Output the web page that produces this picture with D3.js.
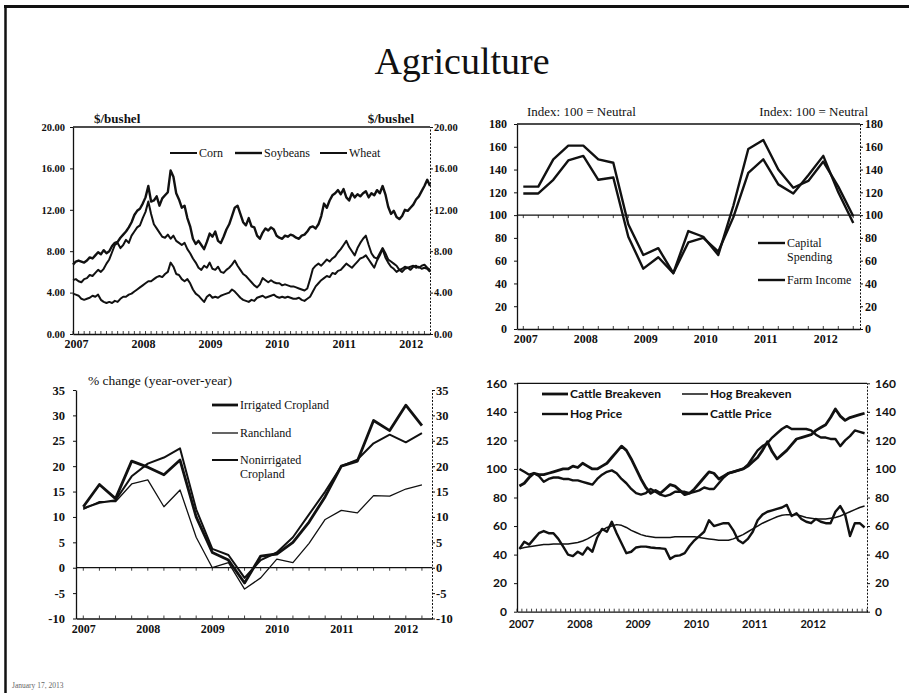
<!DOCTYPE html>
<html>
<head>
<meta charset="utf-8">
<script src="https://cdn.jsdelivr.net/npm/d3@7"></script>
<style>
  html, body { margin: 0; padding: 0; background: #fff; }
  svg { display: block; }
</style>
</head>
<body>
<div id="viz"></div>
<script>
// ---- data ----
const years = [2007, 2008, 2009, 2010, 2011, 2012];

// Top left: grain prices, $/bushel, semi-monthly readings from Jan 2007
const grainDates = d3.range(129).map(i => 2007 + i / 24);
const soybeans = [
  6.7, 7.0, 7.1, 7.0, 6.9, 7.1, 7.4, 7.3, 7.6, 7.9, 7.7, 8.1, 7.8, 8.0, 8.5, 8.8, 8.9, 9.3, 9.6, 9.9, 10.3, 10.8, 11.5, 11.9,
  12.1, 12.6, 13.2, 14.3, 12.8, 12.9, 13.3, 12.4, 13.1, 13.4, 13.7, 15.8, 15.2, 13.6, 13.0, 12.2, 12.4, 11.2, 10.4, 9.2, 8.7, 9.0, 8.6, 8.2,
  8.9, 9.7, 9.4, 9.9, 9.0, 8.8, 9.4, 10.1, 10.6, 11.4, 12.2, 12.4, 11.6, 10.8, 10.5, 11.2, 10.4, 10.3, 9.5, 9.2, 9.8, 10.2, 10.0, 10.3,
  10.1, 9.5, 9.3, 9.2, 9.5, 9.4, 9.6, 9.5, 9.3, 9.2, 9.5, 9.6, 9.9, 10.3, 10.4, 10.2, 10.6, 11.4, 12.6, 12.2, 12.9, 13.4, 13.6, 13.9,
  13.5, 14.0, 13.2, 12.9, 13.6, 13.2, 13.5, 13.3, 13.6, 13.8, 13.2, 13.6, 13.4, 13.9, 13.6, 14.3, 13.5, 12.3, 11.6, 11.9, 11.3, 11.1, 11.4, 12.0,
  11.9, 12.2, 12.5, 13.0, 13.3, 13.8, 14.3, 14.9, 14.3
];
const wheat = [
  5.2, 5.3, 5.1, 5.0, 5.3, 5.4, 5.7, 5.6, 5.9, 6.2, 6.0, 6.3, 6.8, 7.2, 7.9, 8.6, 8.8, 8.3, 8.6, 9.1, 8.8, 9.5, 9.9, 10.3,
  10.5, 11.2, 11.8, 12.8, 11.6, 10.6, 10.2, 9.8, 9.4, 9.3, 9.6, 9.2, 9.5, 9.0, 8.8, 8.6, 8.8, 8.2, 7.8, 7.3, 6.9, 6.4, 6.2, 6.6,
  6.4, 6.9, 6.3, 6.2, 6.5, 6.0, 5.9, 6.2, 6.4, 6.7, 7.1, 6.6, 6.2, 5.8, 5.6, 5.3, 5.0, 4.7, 4.5, 4.8, 5.4, 5.2, 5.0, 5.2,
  5.0, 4.9, 4.9, 4.7, 4.8, 4.7, 4.6, 4.6, 4.5, 4.4, 4.3, 4.2, 4.4, 5.3, 6.3, 6.6, 6.8, 6.6, 6.9, 7.2, 7.0, 7.3, 7.5, 7.9,
  8.2, 8.6, 9.0, 8.4, 8.0, 7.6, 8.3, 8.8, 9.2, 9.5, 8.6, 7.8, 7.4, 7.3, 7.8, 8.3, 7.8, 7.2, 7.0, 6.8, 6.6, 6.2, 6.0, 6.3,
  6.4, 6.2, 6.5, 6.6, 6.4, 6.6, 6.7, 6.4, 6.2
];
const corn = [
  3.9, 3.8, 3.7, 3.4, 3.3, 3.4, 3.5, 3.7, 3.6, 3.8, 3.3, 3.1, 3.0, 3.1, 3.0, 3.2, 3.1, 3.4, 3.6, 3.6, 3.8, 3.9, 4.1, 4.3,
  4.5, 4.7, 4.9, 5.1, 5.1, 5.3, 5.5, 5.6, 5.5, 5.8, 6.0, 6.9, 6.5, 5.8, 5.7, 5.3, 5.1, 5.3, 4.9, 4.3, 3.9, 3.7, 3.4, 3.1,
  3.6, 3.8, 3.5, 3.6, 3.5, 3.7, 3.8, 3.9, 4.0, 4.3, 4.1, 3.8, 3.5, 3.3, 3.2, 3.1, 3.3, 3.2, 3.5, 3.6, 3.7, 3.5, 3.6, 3.7,
  3.8, 3.6, 3.5, 3.6, 3.5, 3.6, 3.5, 3.4, 3.4, 3.5, 3.3, 3.2, 3.4, 3.6, 4.1, 4.6, 4.9, 5.2, 5.4, 5.6, 5.5, 5.9, 5.8, 6.1,
  6.2, 6.5, 6.8, 6.6, 6.4, 6.7, 7.0, 7.3, 7.4, 7.6, 7.2, 6.8, 6.4, 7.1, 7.6, 8.2, 7.4, 6.9, 6.5, 6.3, 6.0, 6.2, 6.3, 6.5,
  6.4, 6.5, 6.6, 6.4, 6.5, 6.3, 6.4, 6.3, 6.0
];

// Top right: quarterly survey index, 100 = neutral
const surveyQuarters = d3.range(23).map(i => 2007 + i / 4);
const capitalSpending = [119, 119, 131, 148, 152, 131, 133, 81, 53, 63, 49, 76, 80, 68, 98, 137, 149, 127, 119, 135, 152, 120, 93];
const farmIncome = [125, 125, 149, 161, 161, 149, 146, 92, 65, 71, 49, 86, 81, 65, 108, 158, 166, 140, 124, 130, 147, 125, 99];

// Bottom left: farmland values, % change year-over-year, quarterly
const landQuarters = d3.range(22).map(i => 2007 + i / 4);
const irrigated = [12, 16.4, 13.6, 21, 19.8, 18.3, 21.2, 10, 3, 1.5, -3, 2.3, 2.7, 5, 9, 14, 20, 21, 29, 27, 32, 28];
const ranchland = [11.5, 13, 13, 16.5, 17.3, 12, 15.3, 6, 0, 1, -4.2, -2, 1.7, 1, 4.8, 9.5, 11.3, 10.8, 14.2, 14.1, 15.5, 16.3];
const nonirrigated = [11.7, 12.8, 13.3, 18, 20.5, 21.7, 23.5, 11.5, 3.7, 2.5, -2, 1.5, 3, 6, 10.5, 15, 20, 21.3, 24.5, 26.2, 24.7, 26.5];

// Bottom right: livestock prices and breakevens, monthly
const livestockMonths = d3.range(72).map(i => 2007 + (i + 0.5) / 12);
const cattleBreakeven = [
  88, 90, 94, 97, 96, 96, 97, 98, 99, 100, 100, 102,
  101, 104, 102, 100, 100, 102, 104, 108, 112, 116, 113, 107,
  100, 93, 87, 83, 85, 83, 86, 89, 88, 85, 82, 83,
  86, 90, 94, 98, 97, 93, 95, 97, 98, 99, 100, 102,
  105, 108, 113, 119, 112, 107, 110, 113, 117, 121, 122, 123,
  124, 127, 129, 131, 136, 142, 137, 134, 136, 137, 138, 139
];
const cattlePrice = [
  100, 98, 96, 97, 95, 91, 93, 94, 94, 93, 93, 92,
  92, 91, 90, 89, 93, 96, 98, 99, 97, 93, 90, 86,
  83, 82, 83, 86, 84, 82, 81, 82, 84, 84, 84, 83,
  84, 85, 87, 86, 86, 90, 94, 97, 98, 99, 100, 103,
  108, 113, 116, 118, 122, 125, 128, 130, 128, 128, 128, 128,
  127, 124, 122, 122, 121, 121, 116, 120, 123, 127, 126, 125
];
const hogPrice = [
  44, 49, 47, 51, 55, 56.5, 55, 55, 51, 45.6, 40, 39,
  42, 40, 45, 42, 52, 58, 56, 63, 55, 48, 41, 42,
  45, 45.6, 45.6, 45, 44.6, 44.4, 44, 37, 39, 39.5, 41, 46,
  50, 53, 56, 64, 60, 61, 62, 62, 57, 50, 48, 51,
  56, 64, 68, 70, 71, 72, 73, 74.8, 67, 69, 65, 63,
  62, 65, 63, 62, 62, 70, 74, 68, 53, 62, 62, 59
];
const hogBreakeven = [
  44, 45, 45.5, 46, 46.5, 47, 47, 47.5, 47.5, 47.5, 47.5, 48,
  48.5, 49.5, 51, 53, 55, 57, 59, 60, 61, 60.5, 59, 57,
  55.5, 54, 53, 52.5, 52, 52, 52, 52, 52.5, 52.5, 52.5, 52.5,
  52.5, 52, 51.5, 51, 50.5, 50, 50, 50, 51, 52.5, 54, 56,
  58, 60, 62, 63.5, 65, 66.5, 67.5, 68, 68, 68, 67, 66,
  65.5, 65, 65, 65, 65.5, 66, 67, 68.5, 70, 71.5, 73, 74
];

// ---- drawing ----
const W = 909, H = 693;
const ink = "#111";
const serif = "'Liberation Serif', 'Times New Roman', serif";
const sans = "Lato, 'Open Sans', sans-serif";

const svg = d3.select("#viz").append("svg")
  .attr("width", W).attr("height", H)
  .attr("viewBox", `0 0 ${W} ${H}`);

svg.append("rect").attr("width", W).attr("height", H).attr("fill", "#fff");

// page frame (top and left edges of the scanned slide)
svg.append("line").attr("x1", 4).attr("x2", W).attr("y1", 6.5).attr("y2", 6.5)
  .attr("stroke", ink).attr("stroke-width", 3);
svg.append("line").attr("x1", 5.5).attr("x2", 5.5).attr("y1", 5).attr("y2", H)
  .attr("stroke", ink).attr("stroke-width", 2.5);

svg.append("text").attr("x", 462).attr("y", 74).attr("text-anchor", "middle")
  .attr("font-family", serif).attr("font-size", 38).attr("fill", ink)
  .text("Agriculture");

svg.append("text").attr("x", 12).attr("y", 688)
  .attr("font-family", serif).attr("font-size", 7.5).attr("fill", "#666")
  .text("January 17, 2013");

function panel(cfg) {
  const g = svg.append("g");
  const x = d3.scaleLinear().domain(cfg.xDomain).range(cfg.xRange);
  const y = d3.scaleLinear().domain(cfg.yDomain).range(cfg.yRange);
  const [x0, x1] = cfg.xRange;
  const [yb, yt] = cfg.yRange;

  if (cfg.topLine) {
    g.append("line").attr("x1", x0).attr("x2", x1).attr("y1", yt).attr("y2", yt)
      .attr("stroke", ink).attr("stroke-width", 1.3);
  }

  const left = g.append("g").attr("transform", `translate(${x0},0)`)
    .call(d3.axisLeft(y).tickValues(cfg.yTicks).tickFormat(cfg.yFormat)
      .tickSizeOuter(0).tickSizeInner(3).tickPadding(cfg.padLeft));
  const right = g.append("g").attr("transform", `translate(${x1},0)`)
    .call(d3.axisRight(y).tickValues(cfg.yTicks).tickFormat(cfg.yFormat)
      .tickSizeOuter(0).tickSizeInner(3).tickPadding(cfg.padRight));
  const bottom = g.append("g").attr("transform", `translate(0,${yb})`)
    .call(d3.axisBottom(x).tickValues(years).tickFormat(d3.format("d"))
      .tickSizeOuter(0).tickSizeInner(0).tickPadding(cfg.padBottom));

  [left, right].forEach(a => a.attr("font-family", cfg.font).attr("font-size", cfg.tickFont)
    .attr("font-weight", cfg.tickWeight));
  bottom.attr("font-family", cfg.font).attr("font-size", cfg.yearFont).attr("font-weight", cfg.tickWeight);
  bottom.selectAll("text").attr("dx", cfg.yearDx);

  [left, right, bottom].forEach(a => {
    a.selectAll(".domain, .tick line").attr("stroke", ink);
    a.selectAll("text").attr("fill", ink);
  });
  left.select(".domain").attr("stroke-width", 1.3);
  bottom.select(".domain").attr("stroke-width", 1.3);
  right.select(".domain").attr("stroke-dasharray", "2,1.5");

  // small ticks along the bottom axis
  g.append("g").selectAll("line").data(cfg.minorTicks).join("line")
    .attr("x1", d => x(d)).attr("x2", d => x(d))
    .attr("y1", yb).attr("y2", yb - 3)
    .attr("stroke", ink).attr("stroke-width", 0.8);

  return { g, x, y };
}

function series(p, dates, values, width) {
  p.g.append("path").datum(values)
    .attr("fill", "none").attr("stroke", ink)
    .attr("stroke-width", width)
    .attr("stroke-linejoin", "round")
    .attr("d", d3.line().x((d, i) => p.x(dates[i])).y(d => p.y(d)));
}

function refLine(p, value, ticks) {
  const yy = p.y(value);
  p.g.append("line")
    .attr("x1", p.x.range()[0]).attr("x2", p.x.range()[1])
    .attr("y1", yy).attr("y2", yy)
    .attr("stroke", ink).attr("stroke-width", 1.2);
  p.g.append("g").selectAll("line").data(ticks).join("line")
    .attr("x1", d => p.x(d)).attr("x2", d => p.x(d))
    .attr("y1", yy).attr("y2", yy + 3)
    .attr("stroke", ink).attr("stroke-width", 0.8);
}

function legendItem(g, x1, x2, y, lines, opts) {
  g.append("line").attr("x1", x1).attr("x2", x2).attr("y1", y).attr("y2", y)
    .attr("stroke", ink).attr("stroke-width", opts.width);
  const t = g.append("text").attr("x", x2 + 2).attr("y", y + opts.size * 0.33)
    .attr("font-family", opts.font).attr("font-size", opts.size)
    .attr("font-weight", opts.weight || "normal").attr("fill", ink);
  lines.forEach((s, i) => t.append("tspan").attr("x", x2 + 2)
    .attr("dy", i === 0 ? 0 : opts.size * 1.2).text(s));
}

function header(x, y, anchor, label, font, size, weight) {
  svg.append("text").attr("x", x).attr("y", y).attr("text-anchor", anchor)
    .attr("font-family", font).attr("font-size", size)
    .attr("font-weight", weight || "normal").attr("fill", ink).text(label);
}

const monthTicks = (a, b) => d3.range(Math.ceil(a * 12), Math.floor(b * 12) + 1).map(m => m / 12);
const quarterTicks = (a, b) => d3.range(Math.ceil(a * 4), Math.floor(b * 4) + 1).map(q => q / 4);

// ---- top left: grain prices ----
const p1 = panel({
  xDomain: [2007, 2012.333], xRange: [73, 430],
  yDomain: [0, 20], yRange: [334, 127],
  yTicks: [0, 4, 8, 12, 16, 20], yFormat: d3.format(".2f"),
  padLeft: 5, padRight: 1, padBottom: 5, yearDx: 3,
  font: serif, tickFont: 10.5, yearFont: 12, tickWeight: "bold",
  minorTicks: monthTicks(2007, 2012.333), topLine: true
});
series(p1, grainDates, corn, 2);
series(p1, grainDates, wheat, 2);
series(p1, grainDates, soybeans, 2.4);
header(94, 123, "start", "$/bushel", serif, 13, "bold");
header(414, 123, "end", "$/bushel", serif, 13, "bold");
legendItem(p1.g, 170, 197, 153, ["Corn"], { font: serif, size: 12, width: 2 });
legendItem(p1.g, 235, 262, 153, ["Soybeans"], { font: serif, size: 12, width: 2.4 });
legendItem(p1.g, 320, 347, 153, ["Wheat"], { font: serif, size: 12, width: 2 });

// ---- top right: survey index ----
const p2 = panel({
  xDomain: [2006.895, 2012.612], xRange: [517, 860],
  yDomain: [0, 180], yRange: [329, 124],
  yTicks: d3.range(0, 181, 20), yFormat: d3.format("d"),
  padLeft: 7, padRight: 2, padBottom: 5, yearDx: 2,
  font: serif, tickFont: 12, yearFont: 12, tickWeight: "bold",
  minorTicks: quarterTicks(2006.895, 2012.612), topLine: true
});
refLine(p2, 100, quarterTicks(2006.895, 2012.612));
series(p2, surveyQuarters, capitalSpending, 2.4);
series(p2, surveyQuarters, farmIncome, 2.4);
header(527, 116, "start", "Index: 100 = Neutral", serif, 13);
header(868, 116, "end", "Index: 100 = Neutral", serif, 13);
legendItem(p2.g, 758, 785, 243, ["Capital", "Spending"], { font: serif, size: 12, width: 2.4 });
legendItem(p2.g, 758, 785, 280, ["Farm Income"], { font: serif, size: 12, width: 2.4 });

// ---- bottom left: farmland values ----
const p3 = panel({
  xDomain: [2006.887, 2012.406], xRange: [76, 432],
  yDomain: [-10, 35], yRange: [618.5, 390],
  yTicks: d3.range(-10, 36, 5), yFormat: d => String(d),
  padLeft: 8, padRight: 1, padBottom: 6, yearDx: 0,
  font: serif, tickFont: 12.5, yearFont: 12, tickWeight: "bold",
  minorTicks: quarterTicks(2006.887, 2012.406), topLine: false
});
refLine(p3, 0, quarterTicks(2006.887, 2012.406));
series(p3, landQuarters, ranchland, 1.3);
series(p3, landQuarters, nonirrigated, 2);
series(p3, landQuarters, irrigated, 2.8);
header(88, 385, "start", "% change (year-over-year)", serif, 13.5);
legendItem(p3.g, 212, 238, 405, ["Irrigated Cropland"], { font: serif, size: 12, width: 2.8 });
legendItem(p3.g, 212, 238, 433, ["Ranchland"], { font: serif, size: 12, width: 1.3 });
legendItem(p3.g, 212, 238, 460, ["Nonirrigated", "Cropland"], { font: serif, size: 12, width: 2 });

// ---- bottom right: livestock ----
const p4 = panel({
  xDomain: [2007, 2013], xRange: [517, 867],
  yDomain: [0, 160], yRange: [611.7, 383.3],
  yTicks: d3.range(0, 161, 20), yFormat: d3.format("d"),
  padLeft: 7, padRight: 5, padBottom: 9, yearDx: 4,
  font: sans, tickFont: 12, yearFont: 11, tickWeight: "bold",
  minorTicks: monthTicks(2007, 2013), topLine: true
});
series(p4, livestockMonths, hogBreakeven, 1.5);
series(p4, livestockMonths, hogPrice, 2.4);
series(p4, livestockMonths, cattlePrice, 2.4);
series(p4, livestockMonths, cattleBreakeven, 2.8);
const lf = { font: sans, size: 12, weight: "bold" };
legendItem(p4.g, 542, 568, 394, ["Cattle Breakeven"], { ...lf, width: 2.8 });
legendItem(p4.g, 682, 708, 394, ["Hog Breakeven"], { ...lf, width: 1.5 });
legendItem(p4.g, 542, 568, 414, ["Hog Price"], { ...lf, width: 2.4 });
legendItem(p4.g, 682, 708, 414, ["Cattle Price"], { ...lf, width: 2.4 });
</script>
</body>
</html>
